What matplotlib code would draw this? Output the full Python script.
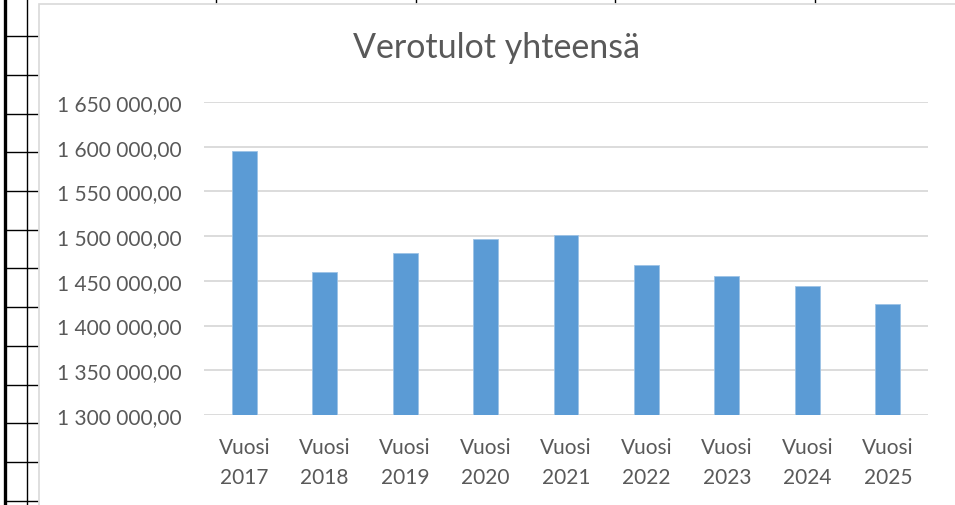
import matplotlib
matplotlib.use("Agg")
import matplotlib.pyplot as plt
from matplotlib.ticker import FuncFormatter, MultipleLocator
from matplotlib.lines import Line2D
from matplotlib.patches import Rectangle

# ---- data ----
categories = ["Vuosi\n2017", "Vuosi\n2018", "Vuosi\n2019", "Vuosi\n2020", "Vuosi\n2021",
              "Vuosi\n2022", "Vuosi\n2023", "Vuosi\n2024", "Vuosi\n2025"]
values = [1594900, 1460100, 1481300, 1497300, 1501100, 1467600, 1455600, 1444400, 1424600]
title = "Verotulot yhteensä"
y_min, y_max, y_step = 1300000, 1650000, 50000

W, H = 955, 506
fig = plt.figure(figsize=(W / 100, H / 100), dpi=100)
fig.patch.set_facecolor("white")

font = ["Lato", "DejaVu Sans"]
text_color = "#595959"
grid_color = "#d9d9d9"
bar_color = "#5b9bd5"

# ---- spreadsheet surroundings (screenshot decoration) ----
def px_line(x0, y0, x1, y1, lw, color="black"):
    fig.add_artist(Line2D([x0 / W, x1 / W], [1 - y0 / H, 1 - y1 / H],
                          transform=fig.transFigure, color=color, lw=lw,
                          solid_capstyle="butt", zorder=-2))

px_line(5, 0, 5, H, 2.4)
px_line(27, 0, 27, H, 1.0)
for yy in [37, 76, 115, 153, 192, 231, 269, 308, 347, 386, 424, 463, 502]:
    px_line(5, yy, 38, yy, 1.0)
for xx in [216, 416, 615, 815]:
    px_line(xx, 0, xx, 4, 1.0)
# chart area border
fig.add_artist(Rectangle((38.5 / W, -0.1), 1.2, 1 - 4.5 / H + 0.1,
                         transform=fig.transFigure, facecolor="white",
                         edgecolor=grid_color, lw=1.2, zorder=-1))

# ---- chart ----
ax = fig.add_axes([204 / W, 1 - 416 / H, (928 - 204) / W, (416 - 103) / H])
ax.set_zorder(1)
ax.set_facecolor("none")
x = list(range(len(categories)))
ax.bar(x, values, width=0.31, color=bar_color, zorder=3,
       bottom=0, edgecolor="#9dc3e6", linewidth=0.6)
ax.set_xlim(-0.5, len(categories) - 0.5)
ax.set_ylim(y_min, y_max)
ax.yaxis.set_major_locator(MultipleLocator(y_step))

def fmt(v, pos):
    s = f"{v:,.2f}"
    return s.replace(",", " ").replace(".", ",")

ax.yaxis.set_major_formatter(FuncFormatter(fmt))
ax.grid(axis="y", color=grid_color, lw=1.3, zorder=0)
for s in ax.spines.values():
    s.set_visible(False)
ax.tick_params(axis="both", length=0, colors=text_color, labelsize=15)
ax.tick_params(axis="y", pad=16)
ax.tick_params(axis="x", pad=16)
ax.set_xticks(x)
ax.set_xticklabels(categories, linespacing=1.6)
for lab in ax.get_xticklabels() + ax.get_yticklabels():
    lab.set_family(font)

fig.text(497 / W, 1 - 48 / H, title, ha="center", va="center",
         fontsize=24.5, color=text_color, family=font, zorder=2)

fig.savefig("out.png", dpi=100, facecolor="white")
